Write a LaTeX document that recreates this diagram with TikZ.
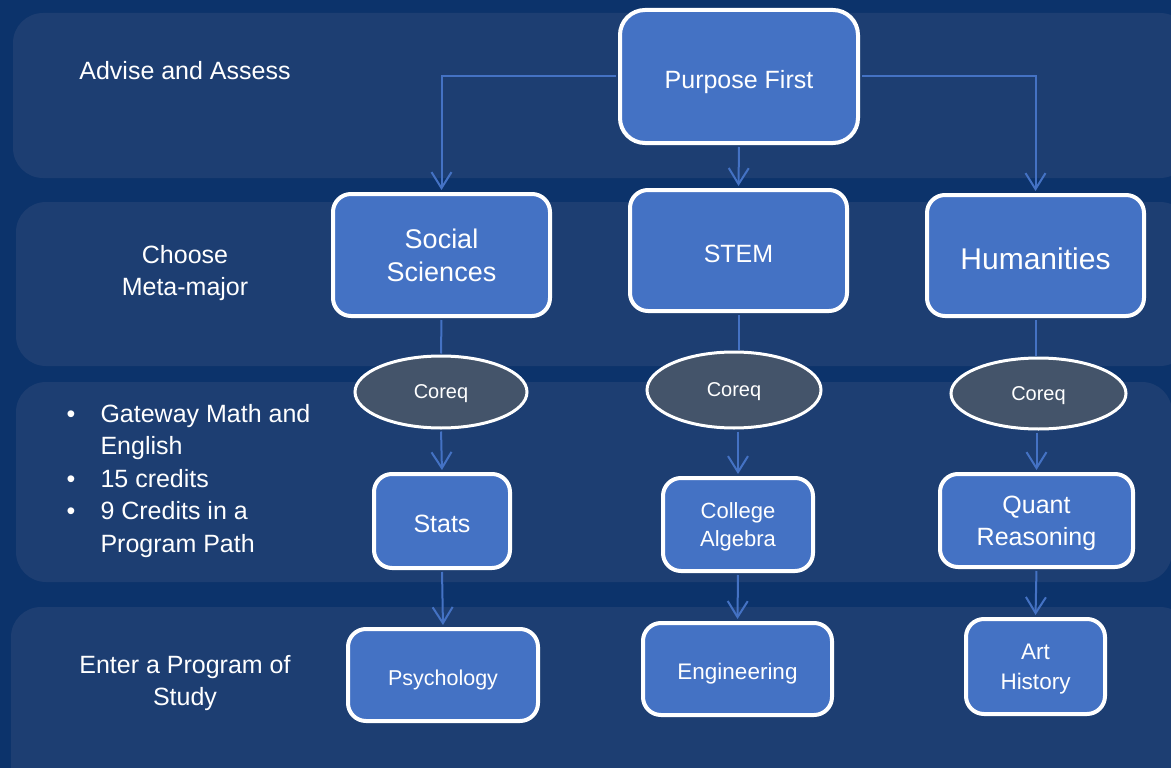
\documentclass[tikz,border=0pt]{standalone}
\usepackage{fontspec}
\setmainfont{Liberation Sans}
\usetikzlibrary{arrows.meta,shapes.geometric}
\definecolor{navybg}{HTML}{0C336B}
\definecolor{bandbg}{HTML}{1D3E72}
\definecolor{boxblue}{HTML}{4472C4}
\definecolor{coreqgray}{HTML}{44546A}
\newcommand{\dotitem}{\makebox[34pt][l]{\textbullet}}
\newcommand{\dotgap}{\hspace*{34pt}}
\tikzset{
  stepbox/.style={draw=white, line width=4pt, fill=boxblue, rounded corners=18pt,
    text=white, align=center, inner sep=0pt, text depth=0pt,
    execute at begin node={\rule{0pt}{0.95em}}},
  coreq/.style={ellipse, draw=white, line width=3pt, fill=coreqgray, text=white,
    inner sep=0pt, text depth=0pt, font=\fontsize{20}{24}\selectfont},
  flow/.style={draw=boxblue, line width=2pt, shorten >=2pt, shorten <=2pt,
    -{Straight Barb[length=16pt,width=20pt,line width=2pt]}},
  link/.style={draw=boxblue, line width=2pt, shorten >=1pt, shorten <=2pt},
  band/.style={fill=bandbg, rounded corners=30pt},
  rowlabel/.style={text=white, align=center, font=\fontsize{25}{32.5}\selectfont},
}
\begin{document}
\begin{tikzpicture}[x=1pt,y=-1pt]
        \useasboundingbox (0,0) rectangle (1171,768);
        \fill[navybg] (0,0) rectangle (1171,768);
        \begin{scope}
        \clip (0,0) rectangle (1171,768);
        \fill[band] (13,13) rectangle (1190,178);
        \fill[band] (16,202) rectangle (1190,366);
        \fill[band] (16,382) rectangle (1172,582);
        \fill[band] (11,607) rectangle (1190,800);
        \end{scope}
        % row labels
        \node[rowlabel] (advise) at (185,71) {Advise and Assess};
        \node[rowlabel] (choose) at (185,273) {Choose\\Meta-major};
        \node[rowlabel, align=left, anchor=west] (gateway) at (63,481)
          {\dotitem Gateway Math and\\\dotgap English\\\dotitem 15 credits\\\dotitem 9 Credits in a\\\dotgap Program Path};
        \node[rowlabel] (enter) at (185,683) {Enter a Program of\\Study};
        % boxes
        \node[stepbox, rounded corners=25pt, minimum width=238pt, minimum height=133pt,
          font=\fontsize{25}{32}\selectfont] (pf) at (739,76.5) {Purpose First};
        \node[stepbox, minimum width=217pt, minimum height=122pt,
          font=\fontsize{27}{33}\selectfont] (soc) at (441.5,255) {Social\\Sciences};
        \node[stepbox, minimum width=217pt, minimum height=121pt,
          font=\fontsize{25}{32}\selectfont] (stem) at (738.5,250.5) {STEM};
        \node[stepbox, minimum width=217pt, minimum height=121pt,
          font=\fontsize{30}{36}\selectfont] (hum) at (1035.5,255.5) {Humanities};
        \node[coreq, minimum width=172pt, minimum height=72pt] (c1) at (441,392) {Coreq};
        \node[coreq, minimum width=174pt, minimum height=76pt] (c2) at (734,390) {Coreq};
        \node[coreq, minimum width=175pt, minimum height=71pt] (c3) at (1038.5,393.5) {Coreq};
        \node[stepbox, minimum width=136pt, minimum height=94pt,
          font=\fontsize{25}{32}\selectfont] (stats) at (442,521) {Stats};
        \node[stepbox, minimum width=150pt, minimum height=93pt,
          font=\fontsize{22}{28}\selectfont] (alg) at (738,524.5) {College\\Algebra};
        \node[stepbox, minimum width=193pt, minimum height=93pt,
          font=\fontsize{25}{32}\selectfont] (quant) at (1036.5,520.5) {Quant\\Reasoning};
        \node[stepbox, minimum width=190pt, minimum height=92pt,
          font=\fontsize{21.5}{28}\selectfont] (psych) at (443,675) {Psychology};
        \node[stepbox, minimum width=189pt, minimum height=92pt,
          font=\fontsize{22.5}{28}\selectfont] (eng) at (737.5,669) {Engineering};
        \node[stepbox, minimum width=139pt, minimum height=95pt,
          font=\fontsize{22.5}{30}\selectfont] (art) at (1035.5,666.5) {Art\\History};
        % connectors
        \draw[flow] (pf.west) -| (soc.north);
        \draw[flow] (pf.east) -| (hum.north);
        \draw[flow] (pf.south) -- (stem.north);
        \draw[link] (soc.south) -- (c1.north);
        \draw[link] (stem.south) -- (stem.south |- c2.north);
        \draw[link] (hum.south) -- (hum.south |- c3.north);
        \draw[flow] (c1.south) -- (stats.north);
        \draw[flow] (alg.north |- c2.south) -- (alg.north);
        \draw[flow] (quant.north |- c3.south) -- (quant.north);
        \draw[flow] (stats.south) -- (psych.north);
        \draw[flow] (alg.south) -- (eng.north);
        \draw[flow] (quant.south) -- (art.north);
\end{tikzpicture}
\end{document}
